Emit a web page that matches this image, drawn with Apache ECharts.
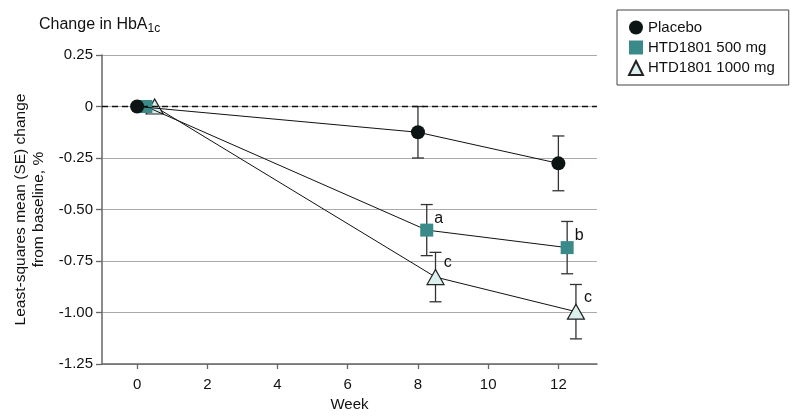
<!DOCTYPE html>
<html>
<head>
<meta charset="utf-8">
<script src="https://cdn.jsdelivr.net/npm/echarts@6/dist/echarts.min.js"></script>
<style>
html,body{margin:0;padding:0;background:#fff;}
#chart{width:794px;height:419px;}
</style>
</head>
<body>
<div id="chart"></div>
<script>
// ---- data ----
const seriesNames = ['Placebo', 'HTD1801 500 mg', 'HTD1801 1000 mg'];
const weeksPlacebo = [0, 8, 12];
const weeks500 = [0.25, 8.25, 12.25];
const weeks1000 = [0.5, 8.5, 12.5];
const meanPlacebo = [0, -0.125, -0.276];
const sePlacebo = [0, 0.125, 0.133];
const mean500 = [0, -0.6, -0.685];
const se500 = [0, 0.124, 0.127];
const mean1000 = [0, -0.828, -0.996];
const se1000 = [0, 0.12, 0.132];
const sig500 = ['', 'a', 'b'];
const sig1000 = ['', 'c', 'c'];
const xTicks = [0, 2, 4, 6, 8, 10, 12];

const FONT = '"Liberation Sans", Arial, sans-serif';

function pts(xs, ys, sig, off) {
  return xs.map((x, i) => {
    const d = { value: [x, ys[i]] };
    if (sig && sig[i]) {
      d.label = { show: true, formatter: sig[i], position: 'right', offset: off,
        color: '#111', fontSize: 16, fontFamily: FONT };
    }
    return d;
  });
}
function errs(xs, ys, se) {
  return xs.map((x, i) => [x, ys[i], se[i]]).filter(d => d[2] > 0);
}
function renderErr(params, api) {
  const x = api.value(0), y = api.value(1), s = api.value(2);
  const hi = api.coord([x, y + s]);
  const lo = api.coord([x, y - s]);
  const cap = 6;
  const st = { stroke: '#333', lineWidth: 1.3 };
  return {
    type: 'group',
    children: [
      { type: 'line', shape: { x1: hi[0], y1: hi[1], x2: lo[0], y2: lo[1] }, style: st },
      { type: 'line', shape: { x1: hi[0] - cap, y1: hi[1], x2: hi[0] + cap, y2: hi[1] }, style: st },
      { type: 'line', shape: { x1: lo[0] - cap, y1: lo[1], x2: lo[0] + cap, y2: lo[1] }, style: st }
    ]
  };
}

const chart = echarts.init(document.getElementById('chart'), null, { renderer: 'canvas' });
const option = {
  backgroundColor: '#fff',
  animation: false,
  textStyle: { fontFamily: FONT },
  title: {
    text: '{m|Change in HbA}{s|1c}',
    left: 34, top: 10,
    textStyle: {
      fontWeight: 'normal',
      rich: {
        m: { fontSize: 16, color: '#111', fontFamily: FONT, fontWeight: 'normal' },
        s: { fontSize: 12, color: '#111', fontFamily: FONT, fontWeight: 'normal', verticalAlign: 'bottom', padding: [8, 0, 0, 0] }
      }
    }
  },
  legend: {
    orient: 'vertical',
    left: 617, top: 10,
    padding: [10, 14, 9, 11],
    itemGap: 5,
    itemWidth: 14, itemHeight: 14,
    borderColor: '#444', borderWidth: 1,
    textStyle: { fontSize: 15, color: '#111', fontFamily: FONT },
    data: [
      { name: seriesNames[0], icon: 'circle' },
      { name: seriesNames[1], icon: 'rect' },
      { name: seriesNames[2], icon: 'triangle' }
    ]
  },
  grid: { left: 102, right: 197, top: 55, bottom: 55, containLabel: false },
  xAxis: {
    type: 'value', min: -1, max: 13.1,
    name: 'Week', nameLocation: 'middle', nameGap: 33,
    nameTextStyle: { fontSize: 15, color: '#111', fontFamily: FONT },
    axisLine: { show: true, onZero: false, lineStyle: { color: '#666', width: 1.5 } },
    axisTick: { show: true, length: 5, customValues: xTicks, lineStyle: { color: '#666', width: 1.3 } },
    axisLabel: { customValues: xTicks, margin: 13, fontSize: 15, color: '#111', fontFamily: FONT },
    splitLine: { show: false }
  },
  yAxis: {
    type: 'value', min: -1.25, max: 0.25, interval: 0.25,
    name: 'Least-squares mean (SE) change\nfrom baseline, %',
    nameLocation: 'middle', nameGap: 53, nameRotate: 90,
    nameTextStyle: { fontSize: 15.5, color: '#111', lineHeight: 18, fontFamily: FONT },
    axisLine: { show: true, onZero: false, lineStyle: { color: '#666', width: 1.5 } },
    axisTick: { show: true, length: 6, lineStyle: { color: '#666', width: 1.3 } },
    axisLabel: {
      margin: 9, fontSize: 15, color: '#111', fontFamily: FONT,
      formatter: v => (Math.abs(v) < 1e-9 ? '0' : v.toFixed(2))
    },
    splitLine: { show: true, lineStyle: { color: '#aaa', width: 1 } }
  },
  series: [
    {
      type: 'custom', name: 'errP', renderItem: renderErr, z: 1,
      data: errs(weeksPlacebo, meanPlacebo, sePlacebo), encode: { x: 0, y: 1 }
    },
    {
      type: 'custom', name: 'err500', renderItem: renderErr, z: 1,
      data: errs(weeks500, mean500, se500), encode: { x: 0, y: 1 }
    },
    {
      type: 'custom', name: 'err1000', renderItem: renderErr, z: 1,
      data: errs(weeks1000, mean1000, se1000), encode: { x: 0, y: 1 }
    },
    {
      type: 'line', name: seriesNames[2], z: 3,
      data: pts(weeks1000, mean1000, sig1000, [-6, -14]),
      symbol: 'triangle', symbolSize: [17, 15],
      lineStyle: { color: '#111', width: 1 },
      itemStyle: { color: '#dcefef', borderColor: '#222', borderWidth: 1.2 }
    },
    {
      type: 'line', name: seriesNames[1], z: 4,
      data: pts(weeks500, mean500, sig500, [-4, -12]),
      symbol: 'rect', symbolSize: 13,
      lineStyle: { color: '#111', width: 1 },
      itemStyle: { color: '#3a8a8a', borderWidth: 0 }
    },
    {
      type: 'line', name: seriesNames[0], z: 5,
      data: pts(weeksPlacebo, meanPlacebo, null, null),
      symbol: 'circle', symbolSize: 14,
      lineStyle: { color: '#111', width: 1 },
      itemStyle: { color: '#0d1414', borderWidth: 0 },
      markLine: {
        silent: true, symbol: 'none', label: { show: false },
        lineStyle: { color: '#111', type: [6, 4], width: 1.3 },
        data: [{ yAxis: 0 }]
      }
    }
  ]
};
chart.setOption(option);
</script>
</body>
</html>
